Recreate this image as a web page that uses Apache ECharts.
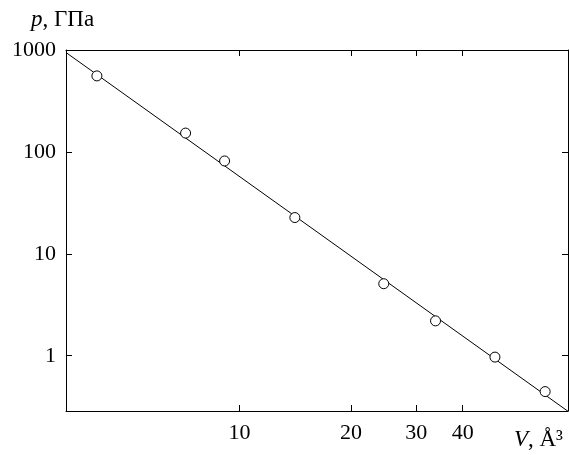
<!DOCTYPE html>
<html>
<head>
<meta charset="utf-8">
<script src="https://cdn.jsdelivr.net/npm/echarts@6/dist/echarts.min.js"></script>
<style>html,body{margin:0;padding:0;background:#fff;}#c{width:569px;height:455px;}</style>
</head>
<body>
<div id="c"></div>
<script>
// Data (log-log)
var volumes = [4.12, 7.15, 9.11, 14.1, 24.5, 33.8, 48.9, 66.8];
var pressures = [557, 153, 81.5, 22.7, 5.09, 2.20, 0.97, 0.445];
var fitLineV = [3.4, 77];
var fitLineP = [945, 0.285];
var xTicks = [10, 20, 30, 40];
var yTicks = [1, 10, 100, 1000];

var FONT = 'Liberation Serif';
var chart = echarts.init(document.getElementById('c'), null, {renderer: 'canvas'});

function axisCommon(ticks, showLabel, margin) {
  return {
    type: 'log',
    logBase: 10,
    axisLine: {show: true, lineStyle: {color: '#000', width: 1}},
    axisTick: {show: true, inside: true, length: 6, lineStyle: {color: '#000', width: 1}, customValues: ticks},
    axisLabel: {
      show: showLabel, customValues: ticks, color: '#000', fontFamily: FONT, fontSize: 22, margin: margin,
      formatter: function (v) { return String(Math.round(v)); }
    },
    splitLine: {show: false},
    minorTick: {show: false}
  };
}

var xBottom = Object.assign(axisCommon(xTicks, true, 11), {position: 'bottom', min: 3.4, max: 77});
var xTop = Object.assign(axisCommon(xTicks, false, 8), {position: 'top', min: 3.4, max: 77});
var yLeft = Object.assign(axisCommon(yTicks, true, 10), {position: 'left', min: 0.287, max: 1000});
var yRight = Object.assign(axisCommon(yTicks, false, 8), {position: 'right', min: 0.287, max: 1000});

var pts = volumes.map(function (v, i) { return [v, pressures[i]]; });
var fit = fitLineV.map(function (v, i) { return [v, fitLineP[i]]; });

chart.setOption({
  animation: false,
  backgroundColor: '#fff',
  grid: {left: 66, right: 1, top: 50, bottom: 44, containLabel: false},
  title: [
    {
      text: '{i|p}{n|, ГПа}',
      left: 26, top: 3,
      textStyle: {fontWeight: 'normal', rich: {
        i: {fontFamily: FONT, fontStyle: 'italic', fontWeight: 'normal', fontSize: 23, color: '#000'},
        n: {fontFamily: FONT, fontWeight: 'normal', fontSize: 23, color: '#000'}
      }}
    },
    {
      text: '{i|V}{n|, Å³}',
      right: 1, top: 423,
      textStyle: {fontWeight: 'normal', rich: {
        i: {fontFamily: FONT, fontStyle: 'italic', fontWeight: 'normal', fontSize: 23, color: '#000'},
        n: {fontFamily: FONT, fontWeight: 'normal', fontSize: 23, color: '#000'}
      }}
    }
  ],
  xAxis: [xBottom, xTop],
  yAxis: [yLeft, yRight],
  series: [
    {
      type: 'line', data: fit, xAxisIndex: 0, yAxisIndex: 0,
      showSymbol: false, symbol: 'none',
      lineStyle: {color: '#000', width: 1}, z: 2
    },
    {
      type: 'scatter', data: pts, xAxisIndex: 0, yAxisIndex: 0,
      symbol: 'circle', symbolSize: 10,
      itemStyle: {color: '#fff', borderColor: '#000', borderWidth: 1, opacity: 1}, z: 3
    }
  ]
});
</script>
</body>
</html>
